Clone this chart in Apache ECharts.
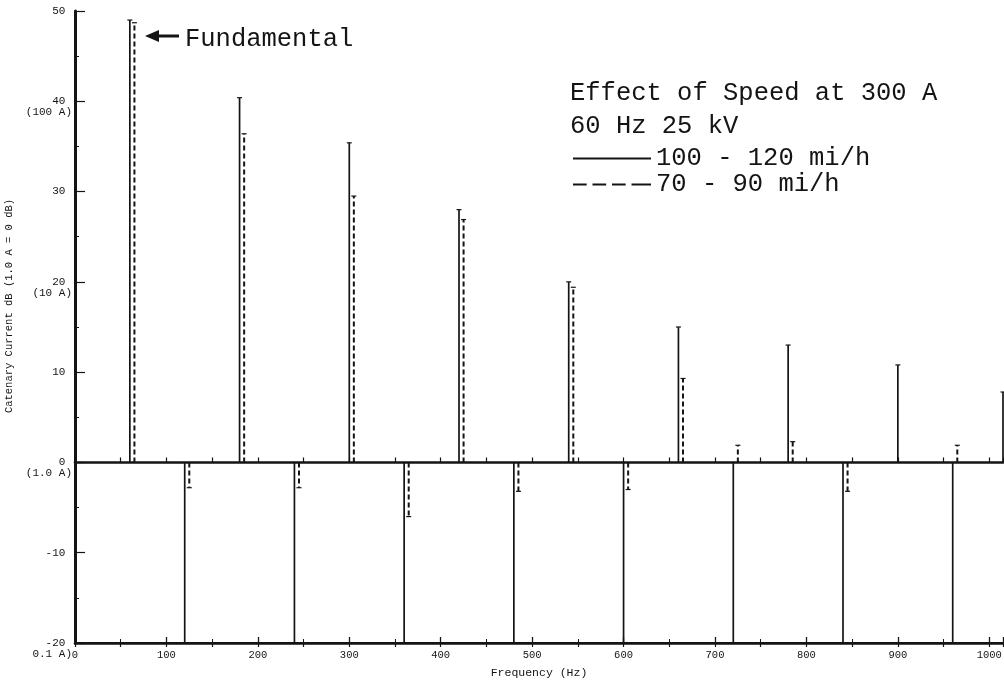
<!DOCTYPE html>
<html>
<head>
<meta charset="utf-8">
<script src="https://cdn.jsdelivr.net/npm/echarts@6/dist/echarts.min.js"></script>
<style>
html,body{margin:0;padding:0;background:#fff;}
#c{width:1004px;height:687px;}
</style>
</head>
<body>
<div id="c"></div>
<script>
// 100 - 120 mi/h (solid) : harmonic frequency (Hz) and level (dB re 1.0 A)
const solidFreq = [60, 120, 180, 240, 300, 360, 420, 480, 540, 600, 660, 720, 780, 840, 900, 960, 1015];
const solidDb   = [49, -20, 40.4, -20, 35.4, -20, 28, -20, 20, -20, 15, -20, 13, -20, 10.8, -20, 7.8];
// 70 - 90 mi/h (dashed)
const dashFreq = [65, 125, 185, 245, 305, 365, 425, 485, 545, 605, 665, 725, 785, 845, 965];
const dashDb   = [48.7, -2.8, 36.4, -2.8, 29.5, -6, 26.9, -3.2, 19.4, -3, 9.3, 1.9, 2.3, -3.2, 1.9];
// y tick sub-labels (current equivalents)
const yTickValues = [50, 40, 30, 20, 10, 0, -10, -20];
const ySubLabels  = ['', '(100 A)', '', '(10 A)', '', '(1.0 A)', '', '0.1 A)'];
const xTickLabels = [0, 100, 200, 300, 400, 500, 600, 700, 800, 900, 1000];

const FONT = 'Liberation Mono';
const INK = '#141414';

const solidData = solidFreq.map((f, i) => [f, solidDb[i]]);
const dashData = dashFreq.map((f, i) => [f, dashDb[i]]);

function stemRenderer(width, dash) {
  return function (params, api) {
    const x = api.value(0), v = api.value(1);
    const p0 = api.coord([x, 0]);
    const p1 = api.coord([x, v]);
    return {
      type: 'group',
      children: [
        { type: 'line', shape: { x1: p0[0], y1: p0[1], x2: p1[0], y2: p1[1] },
          style: { stroke: INK, lineWidth: width, lineDash: dash } },
        { type: 'line', shape: { x1: p1[0] - 2.5, y1: p1[1], x2: p1[0] + 2.5, y2: p1[1] },
          style: { stroke: INK, lineWidth: 1.2 } }
      ]
    };
  };
}

const chart = echarts.init(document.getElementById('c'), null, { renderer: 'canvas' });

const xCommon = { type: 'value', min: 0, max: 1015, splitLine: { show: false } };

chart.setOption({
  backgroundColor: '#fff',
  animation: false,
  title: {
    text: 'Effect of Speed at 300 A\n60 Hz 25 kV',
    left: 570, top: 77, padding: 0,
    textStyle: { fontFamily: FONT, fontSize: 25.5, fontWeight: 'normal', lineHeight: 32.5, color: INK }
  },
  legend: {
    orient: 'vertical', left: 573, top: 145.5, padding: 0, itemGap: 0,
    itemWidth: 78, itemHeight: 3, selectedMode: false,
    textStyle: { fontFamily: FONT, fontSize: 25.5, lineHeight: 25, color: INK },
    data: [
      { name: '100 - 120 mi/h', icon: 'path://M0,0H80V2H0Z' },
      { name: '70 - 90 mi/h', icon: 'path://M0,0H14V2H0Z M20,0H34V2H20Z M40,0H54V2H40Z M60,0H80V2H60Z' }
    ]
  },
  grid: { left: 75, right: 1, top: 11, bottom: 44, outerBoundsMode: 'none', containLabel: false },
  xAxis: [
    Object.assign({}, xCommon, {
      position: 'bottom', interval: 100,
      name: 'Frequency (Hz)', nameLocation: 'middle', nameGap: 24,
      nameTextStyle: { fontFamily: FONT, fontSize: 11.5, color: INK },
      axisLine: { onZero: false, lineStyle: { color: INK, width: 2 } },
      axisTick: { inside: true, length: 6, lineStyle: { color: INK, width: 1.3 } },
      minorTick: { show: true, splitNumber: 2, length: 4, lineStyle: { color: INK, width: 1 } },
      axisLabel: {
        margin: 7, fontFamily: FONT, fontSize: 10.5, color: INK,
        formatter: v => (xTickLabels.indexOf(v) >= 0 ? String(v) : '')
      }
    }),
    Object.assign({}, xCommon, {
      position: 'bottom', interval: 50,
      axisLine: { onZero: true, lineStyle: { color: INK, width: 2.6 } },
      axisTick: { inside: true, length: 5, lineStyle: { color: INK, width: 1.2 } },
      axisLabel: { show: false }
    }),
    Object.assign({}, xCommon, {
      position: 'bottom', interval: 50,
      axisLine: { onZero: true, lineStyle: { color: INK, width: 2.6 } },
      axisTick: { inside: false, length: 4, lineStyle: { color: INK, width: 1.2 } },
      axisLabel: { show: false }
    })
  ],
  yAxis: {
    type: 'value', min: -20, max: 50, interval: 10,
    name: 'Catenary Current dB (1.0 A = 0 dB)', nameLocation: 'middle', nameGap: 57,
    nameTextStyle: { fontFamily: FONT, fontSize: 10.5, color: INK, padding: [0, 0, 0, 42] },
    splitLine: { show: false },
    axisLine: { show: true, lineStyle: { color: INK, width: 3 } },
    axisTick: { inside: true, length: 10, lineStyle: { color: INK, width: 1.2 } },
    minorTick: { show: true, splitNumber: 2, length: 4, lineStyle: { color: INK, width: 1 } },
    axisLabel: {
      margin: 3, fontFamily: FONT, fontSize: 11, lineHeight: 11, color: INK,
      align: 'right',
      formatter: v => {
        const i = yTickValues.indexOf(v);
        const sub = i >= 0 && ySubLabels[i] ? ySubLabels[i] : ' ';
        return ' \n' + v + ' \n' + sub;
      }
    }
  },
  graphic: [
    { type: 'polygon', shape: { points: [[145, 36], [159, 30], [159, 42]] }, style: { fill: INK } },
    { type: 'rect', shape: { x: 157, y: 34.5, width: 22, height: 3 }, style: { fill: INK } },
    { type: 'text', x: 185, y: 39,
      style: { text: 'Fundamental', fontFamily: FONT, fontSize: 25.5, fill: INK, verticalAlign: 'middle' } }
  ],
  series: [
    { name: '100 - 120 mi/h', type: 'custom', xAxisIndex: 0, yAxisIndex: 0, clip: false,
      itemStyle: { color: INK }, renderItem: stemRenderer(1.7, null), data: solidData, z: 3 },
    { name: '70 - 90 mi/h', type: 'custom', xAxisIndex: 0, yAxisIndex: 0, clip: false,
      itemStyle: { color: INK }, renderItem: stemRenderer(2, [5, 3]), data: dashData, z: 3 }
  ]
});
</script>
</body>
</html>
